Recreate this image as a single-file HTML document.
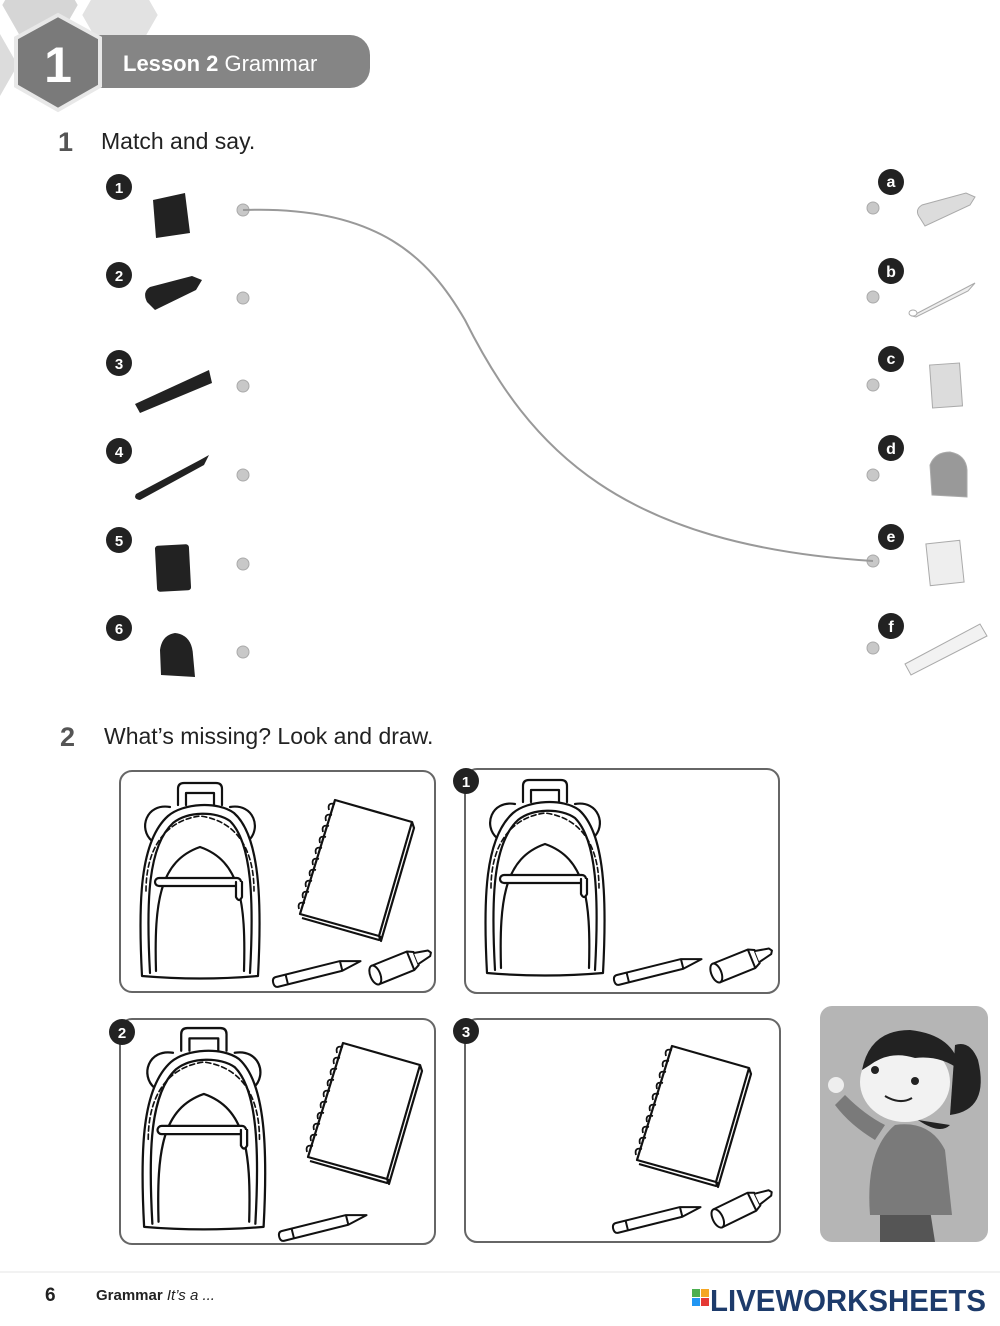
<!DOCTYPE html>
<html><head><meta charset="utf-8"><style>
html,body{margin:0;padding:0;background:#fff;}
body{width:1000px;height:1326px;overflow:hidden;position:relative;}
svg{position:absolute;left:0;top:0;}
text{font-family:"Liberation Sans",sans-serif;}
</style></head><body>
<svg width="1000" height="1326" viewBox="0 0 1000 1326" xmlns="http://www.w3.org/2000/svg">
<defs>
<g id="bp" fill="#fff" stroke="#111" stroke-width="2.2" stroke-linejoin="round" stroke-linecap="round">
  <path d="M40,24 L40,8 Q40,2 46,2 L78,2 Q84,2 84,8 L84,24" />
  <path d="M48,24 L48,12 L76,12 L76,24" fill="none"/>
  <path d="M14,60 C0,48 8,22 32,26" />
  <path d="M110,60 C124,48 116,22 92,26" />
  <path d="M4,195 C0,120 2,60 30,35 C45,22 80,20 96,32 C122,55 124,120 120,195 Q62,200 4,195 Z"/>
  <path d="M12,192 C8,120 10,65 35,42 C50,30 78,30 92,40 C114,62 116,120 112,192" fill="none"/>
  <path d="M8,110 C8,70 25,40 62,35 C100,40 116,70 116,110" fill="none" stroke-dasharray="5,3" stroke-width="1.6"/>
  <path d="M18,190 C16,120 22,80 62,66 C102,80 108,120 106,190" fill="none"/>
  <rect x="17" y="97" width="86" height="8" rx="4"/>
  <path d="M98,101 L98,116 Q101,122 104,116 L104,101" />
</g>
<g id="nb" fill="#fff" stroke="#111" stroke-width="2.2" stroke-linejoin="round">
  <path d="M2,118 L79,140 L81,136" fill="none"/>
  <polygon points="35,0 112,22 79,136 0,114"/>
  <path d="M112,22 L114,28 L81,141 L79,136" fill="none"/>
  <g fill="none" stroke-width="1.8">
    <path d="M35,4 q-8,-2 -6,6"/><path d="M32,15 q-8,-2 -6,6"/><path d="M29,26 q-8,-2 -6,6"/>
    <path d="M26,37 q-8,-2 -6,6"/><path d="M22,48 q-8,-2 -6,6"/><path d="M19,59 q-8,-2 -6,6"/>
    <path d="M16,70 q-8,-2 -6,6"/><path d="M12,81 q-8,-2 -6,6"/><path d="M9,92 q-8,-2 -6,6"/><path d="M5,103 q-8,-2 -6,6"/>
  </g>
</g>
<g id="pc" fill="#fff" stroke="#111" stroke-width="2" stroke-linejoin="round">
  <path d="M4,0 L70,0 L90,5 L70,10 L4,10 Q0,10 0,5 Q0,0 4,0 Z"/>
  <line x1="14" y1="0" x2="14" y2="10"/>
  <path d="M70,0 L70,10" fill="none"/>
</g>
<g id="cr" fill="#fff" stroke="#111" stroke-width="2" stroke-linejoin="round">
  <path d="M6,0 L44,0 L50,3 L50,17 L44,20 L6,20 Z"/>
  <path d="M50,4 L64,7 L66,10 L64,13 L50,16" />
  <ellipse cx="6" cy="10" rx="5" ry="10"/>
  <line x1="44" y1="0" x2="44" y2="20"/>
</g>
</defs>

<!-- header hex pattern -->
<g fill="#d6d6d6" stroke="#fff" stroke-width="4">
  <polygon points="20,-30 60,-30 80,5 60,40 20,40 0,5"/>
  <polygon points="100,-20 140,-20 160,15 140,50 100,50 80,15" fill="#e2e2e2"/>
  <polygon points="-30,30 0,30 20,65 0,100 -30,100" fill="#dcdcdc"/>
</g>
<rect x="95" y="35" width="275" height="53" rx="20" fill="#858585"/>
<rect x="80" y="35" width="60" height="53" fill="#858585"/>
<polygon points="58,15 100,38 100,86 58,110 16,86 16,38" fill="#7a7a7a" stroke="#e8e8e8" stroke-width="4"/>
<text x="58" y="82" text-anchor="middle" font-size="50" font-weight="bold" fill="#fff">1</text>
<text x="123" y="71" font-size="22" font-weight="bold" fill="#fff">Lesson 2 <tspan font-weight="normal">Grammar</tspan></text>

<text x="58" y="151" font-size="27" font-weight="bold" fill="#555">1</text>
<text x="101" y="149" font-size="23" fill="#222">Match and say.</text>

<!-- left numbers -->
<g font-size="15" font-weight="bold" fill="#fff" text-anchor="middle">
  <circle cx="119" cy="187" r="13" fill="#222"/><text x="119" y="193">1</text>
  <circle cx="119" cy="275" r="13" fill="#222"/><text x="119" y="281">2</text>
  <circle cx="119" cy="363" r="13" fill="#222"/><text x="119" y="369">3</text>
  <circle cx="119" cy="451" r="13" fill="#222"/><text x="119" y="457">4</text>
  <circle cx="119" cy="540" r="13" fill="#222"/><text x="119" y="546">5</text>
  <circle cx="119" cy="628" r="13" fill="#222"/><text x="119" y="634">6</text>
</g>
<!-- left black objects -->
<g fill="#222">
  <polygon points="153,200 185,193 190,233 156,238"/>
  <path d="M147,302 Q142,292 150,287 L192,276 L202,280 L196,290 L155,310 Z"/>
  <polygon points="135,404 209,370 212,383 140,413"/>
  <path d="M136,494 L200,460 L209,455 L204,465 L140,500 Q133,499 136,494 Z"/>
  <rect x="156" y="545" width="34" height="46" rx="3" transform="rotate(-3 173 568)"/>
  <path d="M161,675 L160,650 Q162,635 175,633 Q192,635 193,655 L195,677 Z"/>
</g>
<!-- dots -->
<g fill="#c8c8c8" stroke="#aaa" stroke-width="1">
  <circle cx="243" cy="210" r="6"/><circle cx="243" cy="298" r="6"/><circle cx="243" cy="386" r="6"/>
  <circle cx="243" cy="475" r="6"/><circle cx="243" cy="564" r="6"/><circle cx="243" cy="652" r="6"/>
  <circle cx="873" cy="208" r="6"/><circle cx="873" cy="297" r="6"/><circle cx="873" cy="385" r="6"/>
  <circle cx="873" cy="475" r="6"/><circle cx="873" cy="561" r="6"/><circle cx="873" cy="648" r="6"/>
</g>
<path d="M243,210 C380,205 430,260 465,320 C530,450 620,545 873,561" fill="none" stroke="#999" stroke-width="2"/>
<!-- right letters -->
<g font-size="16" font-weight="bold" fill="#fff" text-anchor="middle">
  <circle cx="891" cy="182" r="13" fill="#222"/><text x="891" y="187">a</text>
  <circle cx="891" cy="271" r="13" fill="#222"/><text x="891" y="277">b</text>
  <circle cx="891" cy="359" r="13" fill="#222"/><text x="891" y="364">c</text>
  <circle cx="891" cy="448" r="13" fill="#222"/><text x="891" y="454">d</text>
  <circle cx="891" cy="537" r="13" fill="#222"/><text x="891" y="542">e</text>
  <circle cx="891" cy="626" r="13" fill="#222"/><text x="891" y="632">f</text>
</g>
<!-- right light objects -->
<g fill="#dcdcdc" stroke="#aaa" stroke-width="1">
  <path d="M920,218 Q914,210 922,205 L966,193 L975,197 L970,205 L925,226 Z"/>
  <path d="M912,316 L975,283 L968,291 L916,317 Z" fill="#eee"/>
  <ellipse cx="913" cy="313" rx="4" ry="3" fill="#fff"/>
  <rect x="931" y="364" width="30" height="43" transform="rotate(-4 946 385)"/>
  <path d="M932,495 L930,465 Q935,452 950,452 Q966,455 967,470 L967,497 Z" fill="#999"/>
  <rect x="928" y="542" width="34" height="42" transform="rotate(-6 945 563)" fill="#eee"/>
  <polygon points="905,664 980,624 987,636 911,675" fill="#f2f2f2"/>
</g>

<text x="60" y="746" font-size="27" font-weight="bold" fill="#555">2</text>
<text x="104" y="744" font-size="23" fill="#222">What’s missing? Look and draw.</text>

<!-- panels -->
<g fill="none" stroke="#666" stroke-width="2">
  <rect x="120" y="771" width="315" height="221" rx="12"/>
  <rect x="465" y="769" width="314" height="224" rx="12"/>
  <rect x="120" y="1019" width="315" height="225" rx="12"/>
  <rect x="465" y="1019" width="315" height="223" rx="12"/>
</g>
<g font-size="15" font-weight="bold" fill="#fff" text-anchor="middle">
  <circle cx="466" cy="781" r="13" fill="#222"/><text x="466" y="787">1</text>
  <circle cx="122" cy="1032" r="13" fill="#222"/><text x="122" y="1038">2</text>
  <circle cx="466" cy="1031" r="13" fill="#222"/><text x="466" y="1037">3</text>
</g>
<!-- panel A -->
<use href="#bp" transform="translate(138,781)"/>
<use href="#nb" transform="translate(300,800)"/>
<use href="#pc" transform="translate(272,978) rotate(-14)"/>
<use href="#cr" transform="translate(366,968) rotate(-22)"/>
<!-- panel 1 -->
<use href="#bp" transform="translate(483,778)"/>
<use href="#pc" transform="translate(613,976) rotate(-14)"/>
<use href="#cr" transform="translate(707,966) rotate(-22)"/>
<!-- panel 2 -->
<use href="#bp" transform="translate(140,1026) scale(1.03,1.03)"/>
<use href="#nb" transform="translate(308,1043)"/>
<use href="#pc" transform="translate(278,1232) rotate(-14)"/>
<!-- panel 3 -->
<use href="#nb" transform="translate(637,1046)"/>
<use href="#pc" transform="translate(612,1224) rotate(-14)"/>
<use href="#cr" transform="translate(708,1212) rotate(-26)"/>

<!-- girl panel -->
<rect x="820" y="1006" width="168" height="236" rx="12" fill="#b5b5b5"/>
<g>
  <path d="M880,1242 L880,1210 L930,1210 L935,1242 Z" fill="#555"/>
  <path d="M870,1215 Q865,1150 895,1125 Q930,1120 945,1150 L952,1215 Z" fill="#7a7a7a"/>
  <path d="M875,1140 Q850,1125 835,1105 L845,1095 Q865,1115 885,1125 Z" fill="#7a7a7a"/>
  <circle cx="836" cy="1085" r="8" fill="#eee"/>
  <path d="M950,1115 Q990,1110 978,1060 Q970,1040 955,1045 Z" fill="#222"/>
  <ellipse cx="905" cy="1082" rx="45" ry="40" fill="#f2f2f2"/>
  <path d="M862,1070 Q870,1030 910,1030 Q955,1035 960,1070 Q940,1055 915,1058 Q890,1050 870,1065 Z" fill="#222"/>
  <circle cx="875" cy="1070" r="4" fill="#222"/><circle cx="915" cy="1081" r="4" fill="#222"/>
  <path d="M885,1096 Q900,1105 912,1098" fill="none" stroke="#222" stroke-width="2"/>
  <path d="M918,1120 Q940,1135 950,1125" fill="#222"/>
</g>

<!-- footer -->
<line x1="0" y1="1272" x2="1000" y2="1272" stroke="#e4e4e4" stroke-width="1"/>
<text x="45" y="1301" font-size="19" font-weight="bold" fill="#222">6</text>
<text x="96" y="1300" font-size="15" font-weight="bold" fill="#222">Grammar <tspan font-weight="normal" font-style="italic">It’s a ...</tspan></text>
<rect x="692" y="1289" width="8" height="8" fill="#4caf50"/><rect x="701" y="1289" width="8" height="8" fill="#f5a623"/>
<rect x="692" y="1298" width="8" height="8" fill="#2196f3"/><rect x="701" y="1298" width="8" height="8" fill="#e53935"/>
<text x="710" y="1311" font-size="31" font-weight="bold" fill="#1d3b6b" font-family="Liberation Sans Narrow, Liberation Sans, sans-serif" textLength="276" lengthAdjust="spacingAndGlyphs">LIVEWORKSHEETS</text>
</svg>
</body></html>
